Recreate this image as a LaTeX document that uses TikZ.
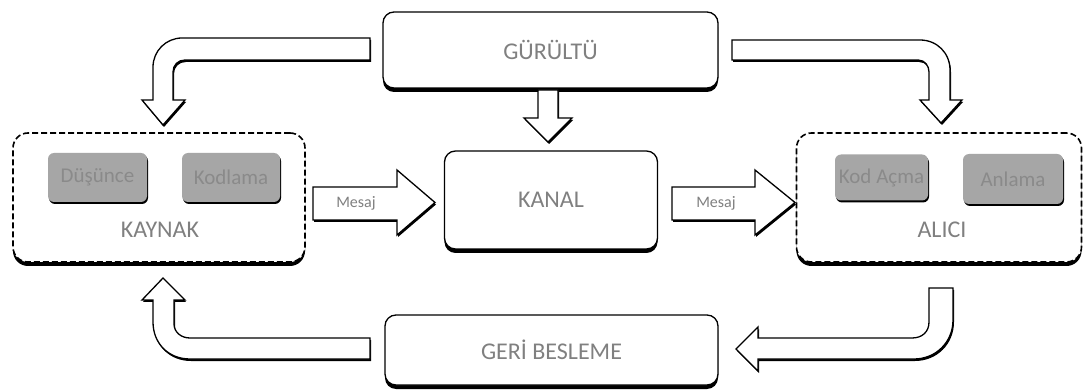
\documentclass[tikz,border=0pt]{standalone}
\usepackage{fontspec}
\setmainfont{Carlito}
\usetikzlibrary{shadows}
\definecolor{labelgray}{RGB}{128,128,128}
\definecolor{innertext}{RGB}{138,138,138}
\definecolor{innerfill}{RGB}{166,166,166}
\tikzset{
  blackshadow/.style={drop shadow={shadow xshift=0pt,shadow yshift=-4pt,fill=black,opacity=1}},
  smallshadow/.style={drop shadow={shadow xshift=1pt,shadow yshift=-2pt,fill=black,opacity=1}},
  block/.style={draw=black,line width=1.3pt,fill=white,rounded corners=11pt,blackshadow,
    text=labelgray,font=\fontsize{24}{26}\selectfont},
  group/.style={draw=black,line width=1.6pt,dash pattern=on 6pt off 3pt,fill=white,
    rounded corners=15pt,blackshadow},
  inner/.style={fill=innerfill,rounded corners=6pt,smallshadow,text=innertext,
    font=\fontsize{21}{23}\selectfont,inner sep=0pt},
  grouplabel/.style={text=labelgray,font=\fontsize{24}{26}\selectfont},
  blockarrow/.style={draw=black,line width=1.3pt,fill=white,smallshadow},
  arrowlabel/.style={text=labelgray,font=\fontsize{16}{18}\selectfont}
}
\begin{document}
\begin{tikzpicture}[x=1pt,y=-1pt]
\path[use as bounding box] (0,0) rectangle (1085,390);

% sender and receiver groups
\node[group,minimum width=292pt,minimum height=129pt] (kaynak) at (159,197.5) {};
\node[group,minimum width=285pt,minimum height=129pt] (alici) at (939,197.5) {};
\node[inner,minimum width=99pt,minimum height=49pt] (dusunce) at (97.5,177.5) {Düşünce};
\node[inner,minimum width=98pt,minimum height=49pt] (kodlama) at (231,177.5) {Kodlama};
\node[grouplabel] (kaynaklbl) at (160,230) {KAYNAK};
\node[inner,minimum width=93pt,minimum height=46pt] (kodacma) at (881.5,177.5) {Kod Açma};
\node[inner,minimum width=100pt,minimum height=50pt] (anlama) at (1013,179) {Anlama};
\node[grouplabel] (alicilbl) at (942,230) {ALICI};

% central blocks
\node[block,minimum width=335pt,minimum height=76pt] (gurultu) at (550.5,50) {GÜRÜLTÜ};
\node[block,minimum width=213pt,minimum height=98pt] (kanal) at (551,200) {KANAL};
\node[block,minimum width=333pt,minimum height=70pt] (geri) at (551.5,350) {GERİ BESLEME};

% noise into channel
\draw[blockarrow] (538,90) -- (558,90) -- (558,118) -- (572,118) -- (548,142)
  -- (524,118) -- (538,118) -- cycle;

% noise into sender
\draw[blockarrow] (370,38) -- (182,38) .. controls (166,38) and (153,51) .. (153,67)
  -- (153,100) -- (142,100) -- (163,125) -- (185,100) -- (173,100) -- (173,72)
  .. controls (173,65) and (178,60) .. (185,60) -- (370,60) -- cycle;

% noise into receiver
\draw[blockarrow] (732,40) -- (920,40) .. controls (937,40) and (950,53) .. (950,70)
  -- (950,100) -- (962,100) -- (941,123) -- (920,100) -- (929,100) -- (929,72)
  .. controls (929,66) and (925,60) .. (918,60) -- (732,60) -- cycle;

% message arrows
\draw[blockarrow] (313,187) -- (397,187) -- (397,170) -- (435,202.5) -- (397,235)
  -- (397,220) -- (313,220) -- cycle;
\node[arrowlabel] (mesaj1) at (356,203) {Mesaj};
\draw[blockarrow] (672,187) -- (755,187) -- (755,170) -- (795,202.5) -- (755,235)
  -- (755,220) -- (672,220) -- cycle;
\node[arrowlabel] (mesaj2) at (716,203) {Mesaj};

% feedback loop
\draw[blockarrow] (929,288) -- (953,288) -- (953,320) .. controls (953,342) and (936,359) .. (914,359)
  -- (758,359) -- (758,371) -- (736,349) -- (758,327) -- (758,338) -- (912,338)
  .. controls (922,338) and (929,332) .. (929,322) -- cycle;
\draw[blockarrow] (370,338) -- (190,338) .. controls (181,338) and (174,332) .. (174,324)
  -- (174,300) -- (185,300) -- (163,278) -- (142,300) -- (153,300) -- (153,322)
  .. controls (153,343) and (168,359) .. (190,359) -- (370,359) -- cycle;
\end{tikzpicture}
\end{document}
